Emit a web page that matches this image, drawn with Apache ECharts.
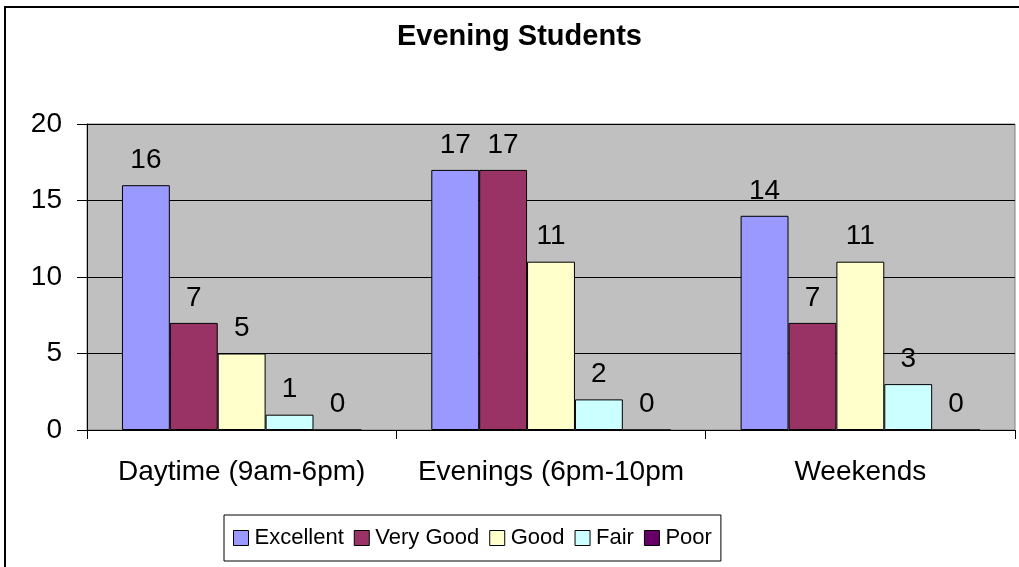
<!DOCTYPE html>
<html>
<head>
<meta charset="utf-8">
<title>Evening Students</title>
<script src="https://cdn.jsdelivr.net/npm/echarts@6/dist/echarts.min.js"></script>
<style>
  html, body { margin: 0; padding: 0; background: #fff; }
  #myChart { width: 1019px; height: 567px; }
</style>
</head>
<body>
<div id="myChart"></div>
<script>
// data
var categories = ["Daytime (9am-6pm)", "Evenings (6pm-10pm", "Weekends"];
var seriesNames = ["Excellent", "Very Good", "Good", "Fair", "Poor"];
var excellent = [16, 17, 14];
var veryGood = [7, 17, 7];
var good = [5, 11, 11];
var fair = [1, 2, 3];
var poor = [0, 0, 0];
var colors = ["#9999FF", "#993366", "#FFFFCC", "#CCFFFF", "#660066"];

var font = "'Liberation Sans', Arial, sans-serif";
var allData = [excellent, veryGood, good, fair, poor];

var series = [];
for (var i = 0; i < seriesNames.length; i++) {
  series.push({
    name: seriesNames[i],
    type: "bar",
    data: allData[i],
    barGap: "0%",
    barCategoryGap: "22.6%",
    itemStyle: { color: colors[i], borderColor: "#000", borderWidth: 1 },
    label: {
      show: true,
      position: "top",
      distance: 11,
      color: "#000",
      fontFamily: font,
      fontSize: 28
    }
  });
}

var myChart = echarts.init(document.getElementById("myChart"));
myChart.setOption({
  animation: false,
  backgroundColor: "#fff",
  title: {
    text: "Evening Students",
    left: 392,
    top: 17,
    textStyle: { fontFamily: font, fontSize: 29, fontWeight: "bold", color: "#000" }
  },
  graphic: [{
    type: "rect",
    shape: { x: 5, y: 7, width: 1200, height: 700 },
    style: { fill: "none", stroke: "#000", lineWidth: 2 },
    silent: true
  }],
  grid: {
    left: 87, right: 4, top: 124, bottom: 137,
    show: true,
    backgroundColor: "#C0C0C0",
    borderColor: "#808080",
    borderWidth: 1
  },
  legend: {
    data: seriesNames,
    left: 224,
    top: 515,
    padding: [12, 9, 12, 9],
    itemGap: 10,
    itemWidth: 15,
    itemHeight: 15,
    icon: "rect",
    borderColor: "#000",
    borderWidth: 1,
    itemStyle: { borderColor: "#000", borderWidth: 1 },
    textStyle: { fontFamily: font, fontSize: 22, color: "#000", padding: [0, 0, 0, 1] }
  },
  xAxis: {
    type: "category",
    data: categories,
    axisLine: { lineStyle: { color: "#000", width: 1 } },
    axisTick: { show: true, length: 9, lineStyle: { color: "#000" } },
    axisLabel: { interval: 0, margin: 28, color: "#000", fontFamily: font, fontSize: 28 }
  },
  yAxis: {
    type: "value",
    min: 0,
    max: 20,
    interval: 5,
    axisLine: { show: true, lineStyle: { color: "#000", width: 1 } },
    axisTick: { show: true, length: 10, lineStyle: { color: "#000" } },
    axisLabel: { margin: 25, color: "#000", fontFamily: font, fontSize: 28 },
    splitLine: { show: true, lineStyle: { color: "#000", width: 1 } }
  },
  series: series
});
</script>
</body>
</html>
